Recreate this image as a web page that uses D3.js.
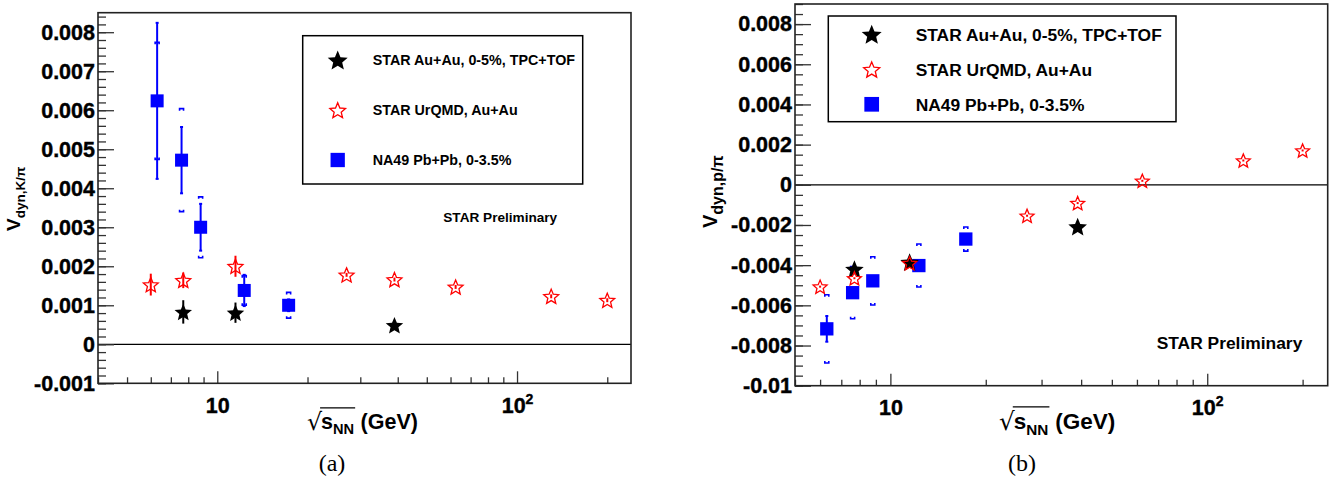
<!DOCTYPE html>
<html><head><meta charset="utf-8">
<script src="https://cdn.jsdelivr.net/npm/d3@7"></script>
<style>body{margin:0;background:#fff} svg{display:block}</style>
</head><body>
<svg id="c" width="1343" height="485"></svg>
<script>
// ---------------- data ----------------
const starEnergy = [7.7, 11.5, 39];
const starKpi    = [0.00083, 0.00081, 0.00049];
const starKpiErr = [0.00030, 0.00026, 0.00003];
const starPpi    = [-0.00419, -0.00385, -0.00208];
const starPpiErr = [0.00010, 0.00010, 0.00010];

const urqmdEnergy = [6.0, 7.7, 11.5, 27, 39, 62.4, 130, 200];
const urqmdKpi    = [0.00153, 0.00164, 0.00200, 0.00178, 0.00166, 0.00147, 0.00123, 0.00113];
const urqmdKpiErr = [0.00028, 0.00020, 0.00027, 0.00005, 0.00005, 0.00005, 0.00005, 0.00005];
const urqmdPpi    = [-0.00507, -0.00465, -0.00390, -0.00154, -0.00091, 0.00020, 0.00121, 0.00171];
const urqmdPpiErr = [0.00005, 0.00005, 0.00005, 0.00005, 0.00005, 0.00005, 0.00005, 0.00005];

const na49Energy  = [6.3, 7.6, 8.8, 12.3, 17.3];
const na49Kpi     = [0.00624, 0.00472, 0.00300, 0.00138, 0.00100];
const na49KpiStat = [0.00200, 0.00085, 0.00060, 0.00040, 0.00015];
const na49KpiSys  = [0.00150, 0.00132, 0.00078, 0.00038, 0.00033];
const na49Ppi     = [-0.00717, -0.00537, -0.00478, -0.00402, -0.00270];
const na49PpiStat = [0.00064, 0.00020, 0.00020, 0.00020, 0.00020];
const na49PpiSys  = [0.00170, 0.00130, 0.00120, 0.00107, 0.00060];

const legendLabels = ["STAR Au+Au, 0-5%, TPC+TOF", "STAR UrQMD, Au+Au", "NA49 Pb+Pb, 0-3.5%"];
const xMajorTicks = [10, 100];
const xMajorLabels = [["10", ""], ["10", "2"]];
const xMinorTicks = [4, 5, 6, 7, 8, 9, 20, 30, 40, 50, 60, 70, 80, 90, 200];
const yTicksA = [-0.001, 0, 0.001, 0.002, 0.003, 0.004, 0.005, 0.006, 0.007, 0.008];
const yTicksB = [-0.01, -0.008, -0.006, -0.004, -0.002, 0, 0.002, 0.004, 0.006, 0.008];
const yLabelSubA = "dyn,K/\u03C0";
const yLabelSubB = "dyn,p/\u03C0";
const prelimText = "STAR Preliminary";
const captions = ["(a)", "(b)"];

// ---------------- drawing ----------------
const svg = d3.select("#c");
const FONT = "'Liberation Sans', Arial, Helvetica, sans-serif";
const BLUE = "#0000ff", RED = "#ff0000";

const panels = [
  {
    frame: {x0: 98, x1: 631, y0: 12.7, y1: 383.3},
    xDomain: [4, 240], yDomain: [-0.001, 0.0085],
    yTicks: yTicksA, yMinor: d3.range(-0.001, 0.00851, 0.0002),
    star: starKpi, starErr: starKpiErr, urqmd: urqmdKpi, urqmdErr: urqmdKpiErr,
    na49: na49Kpi, na49Stat: na49KpiStat, na49Sys: na49KpiSys,
    starR: 9.2, redR: 7.8, sq: 13,
    legend: {x0: 302.7, x1: 582.7, y0: 35.7, y1: 184, mx: 337.7, tx: 372.7, rows: [60, 110, 160], fs: 14.3, starR: 10.5, redR: 8.2, sq: 14.3},
    prelim: {x: 443.3, y: 222.3, fs: 13.6},
    ylab: {x: 19.5, y: 231, fsV: 19, fsS: 13.5, dy: 5},
    xtitle: {x: 307, y: 429, fs: 21.5},
    labFs: 21.5,
    caption: {x: 332, y: 471, text: captions[0]}
  },
  {
    frame: {x0: 795, x1: 1327.7, y0: 4, y1: 385.7},
    xDomain: [5, 240], yDomain: [-0.01, 0.009],
    yTicks: yTicksB, yMinor: d3.range(-0.01, 0.00901, 0.0005),
    star: starPpi, starErr: starPpiErr, urqmd: urqmdPpi, urqmdErr: urqmdPpiErr,
    na49: na49Ppi, na49Stat: na49PpiStat, na49Sys: na49PpiSys,
    starR: 9.8, redR: 7.3, sq: 13.3,
    legend: {x0: 828.3, x1: 1176, y0: 16, y1: 121.7, mx: 871.7, tx: 915.7, rows: [34.3, 69.3, 104.3], fs: 17.4, starR: 10.5, redR: 8.4, sq: 14.7},
    prelim: {x: 1156.7, y: 349, fs: 17.4},
    ylab: {x: 717, y: 228, fsV: 20, fsS: 16, dy: 5.5},
    xtitle: {x: 999, y: 429, fs: 22.5},
    labFs: 21.5,
    caption: {x: 1022, y: 471, text: captions[1]}
  }
];

// ROOT-like five-pointed star (plumper than d3.symbolStar)
const rootStar = {
  draw(ctx, size) {
    const r = Math.sqrt(size), ri = r * 0.45;
    for (let i = 0; i < 10; i++) {
      const a = -Math.PI / 2 + i * Math.PI / 5;
      const rr = i % 2 ? ri : r;
      const px = rr * Math.cos(a), py = rr * Math.sin(a);
      if (i) ctx.lineTo(px, py); else ctx.moveTo(px, py);
    }
    ctx.closePath();
  }
};
function starPath(r) {
  return d3.symbol().type(rootStar).size(r * r)();
}

function drawPanel(p) {
  const f = p.frame;
  const g = svg.append("g");
  const x = d3.scaleLog().domain(p.xDomain).range([f.x0, f.x1]);
  const y = d3.scaleLinear().domain(p.yDomain).range([f.y1, f.y0]);

  // zero line
  g.append("line").attr("x1", f.x0).attr("x2", f.x1).attr("y1", y(0)).attr("y2", y(0))
    .attr("stroke", "#000").attr("stroke-width", 1.2);

  // y axis minor
  const yMinAx = d3.axisLeft(y).tickValues(p.yMinor.filter(v => v <= p.yDomain[1] + 1e-9))
    .tickSizeInner(-8).tickSizeOuter(0).tickFormat("");
  const gyMin = g.append("g").attr("transform", `translate(${f.x0},0)`).call(yMinAx);
  // y axis major
  const yAx = d3.axisLeft(y).tickValues(p.yTicks).tickSizeInner(-16).tickSizeOuter(0).tickPadding(3)
    .tickFormat(d => String(+d.toFixed(4)));
  const gy = g.append("g").attr("transform", `translate(${f.x0},0)`).call(yAx);
  gy.selectAll("text").style("font-family", FONT).style("font-weight", "bold")
    .style("font-size", p.labFs + "px").attr("fill", "#000").attr("stroke", "#000").attr("stroke-width", 0.4);

  // x axis minor
  const xMinAx = d3.axisBottom(x).tickValues(xMinorTicks.filter(v => v >= p.xDomain[0] && v <= p.xDomain[1]))
    .tickSizeInner(-6).tickSizeOuter(0).tickFormat("");
  const gxMin = g.append("g").attr("transform", `translate(0,${f.y1})`).call(xMinAx);
  const xAx = d3.axisBottom(x).tickValues(xMajorTicks).tickSizeInner(-12).tickSizeOuter(0).tickPadding(14)
    .tickFormat("");
  const gx = g.append("g").attr("transform", `translate(0,${f.y1})`).call(xAx);
  gx.selectAll(".tick text").each(function(d, i) {
    const t = d3.select(this);
    t.style("font-family", FONT).style("font-weight", "bold").style("font-size", "21.5px").attr("fill", "#000")
      .attr("stroke", "#000").attr("stroke-width", 0.4);
    t.append("tspan").text(xMajorLabels[i][0]);
    if (xMajorLabels[i][1]) t.append("tspan").attr("dy", -9).style("font-size", "14px").text(xMajorLabels[i][1]);
  });
  [gyMin, gy, gxMin, gx].forEach(a => {
    a.select(".domain").remove();
    a.selectAll("line").attr("stroke", "#333").attr("stroke-width", 1.3);
  });

  // frame
  g.append("rect").attr("x", f.x0).attr("y", f.y0).attr("width", f.x1 - f.x0).attr("height", f.y1 - f.y0)
    .attr("fill", "none").attr("stroke", "#222").attr("stroke-width", 1.6);

  // NA49 stat bars
  const na = na49Energy.map((e, i) => ({e, v: p.na49[i], s: p.na49Stat[i], y: p.na49Sys[i]}));
  na.forEach(d => {
    const cx = x(d.e);
    g.append("line").attr("x1", cx).attr("x2", cx).attr("y1", y(d.v - d.s)).attr("y2", y(d.v + d.s))
      .attr("stroke", BLUE).attr("stroke-width", 2);
    [d.v - d.s, d.v + d.s].forEach(v => g.append("line").attr("x1", cx - 1.5).attr("x2", cx + 1.5)
      .attr("y1", y(v)).attr("y2", y(v)).attr("stroke", BLUE).attr("stroke-width", 2));
    // systematic caps
    const yt = y(d.v + d.y), yb = y(d.v - d.y);
    g.append("path").attr("d", `M${cx - 2},${yt + 2}L${cx - 2},${yt}L${cx + 2},${yt}L${cx + 2},${yt + 2}`)
      .attr("fill", "none").attr("stroke", BLUE).attr("stroke-width", 1.6);
    g.append("path").attr("d", `M${cx - 2},${yb - 2}L${cx - 2},${yb}L${cx + 2},${yb}L${cx + 2},${yb - 2}`)
      .attr("fill", "none").attr("stroke", BLUE).attr("stroke-width", 1.6);
  });
  // STAR err bars
  starEnergy.forEach((e, i) => {
    g.append("line").attr("x1", x(e)).attr("x2", x(e)).attr("y1", y(p.star[i] - p.starErr[i])).attr("y2", y(p.star[i] + p.starErr[i]))
      .attr("stroke", "#000").attr("stroke-width", 2);
  });
  urqmdEnergy.forEach((e, i) => {
    g.append("line").attr("x1", x(e)).attr("x2", x(e)).attr("y1", y(p.urqmd[i] - p.urqmdErr[i])).attr("y2", y(p.urqmd[i] + p.urqmdErr[i]))
      .attr("stroke", RED).attr("stroke-width", 2);
  });
  // NA49 squares
  g.selectAll(".sq").data(na).enter().append("rect")
    .attr("x", d => x(d.e) - p.sq / 2).attr("y", d => y(d.v) - p.sq / 2)
    .attr("width", p.sq).attr("height", p.sq).attr("fill", BLUE);
  // STAR stars
  g.selectAll(".st").data(starEnergy).enter().append("path")
    .attr("d", starPath(p.starR)).attr("transform", (e, i) => `translate(${x(e)},${y(p.star[i]) + p.starR * 0.1})`)
    .attr("fill", "#000");
  // UrQMD open stars
  g.selectAll(".ur").data(urqmdEnergy).enter().append("path")
    .attr("d", starPath(p.redR)).attr("transform", (e, i) => `translate(${x(e)},${y(p.urqmd[i]) + p.redR * 0.1})`)
    .attr("fill", "none").attr("stroke", RED).attr("stroke-width", 1.3);

  // legend
  const L = p.legend;
  g.append("rect").attr("x", L.x0).attr("y", L.y0).attr("width", L.x1 - L.x0).attr("height", L.y1 - L.y0)
    .attr("fill", "#fff").attr("stroke", "#000").attr("stroke-width", 1.5);
  g.append("path").attr("d", starPath(L.starR)).attr("transform", `translate(${L.mx},${L.rows[0] + 1})`).attr("fill", "#000");
  g.append("path").attr("d", starPath(L.redR)).attr("transform", `translate(${L.mx},${L.rows[1] + 1})`)
    .attr("fill", "none").attr("stroke", RED).attr("stroke-width", 1.3);
  g.append("rect").attr("x", L.mx - L.sq / 2).attr("y", L.rows[2] - L.sq / 2).attr("width", L.sq).attr("height", L.sq).attr("fill", BLUE);
  legendLabels.forEach((t, i) => g.append("text").attr("x", L.tx).attr("y", L.rows[i] + L.fs * 0.36)
    .style("font-family", FONT).style("font-weight", "bold").style("font-size", L.fs + "px").text(t));

  // preliminary
  g.append("text").attr("x", p.prelim.x).attr("y", p.prelim.y).style("font-family", FONT)
    .style("font-weight", "bold").style("font-size", p.prelim.fs + "px").text(prelimText);

  // y label
  const yl = g.append("text").attr("transform", `translate(${p.ylab.x},${p.ylab.y}) rotate(-90)`)
    .style("font-family", FONT).style("font-weight", "bold");
  yl.append("tspan").style("font-size", p.ylab.fsV + "px").text("V");
  yl.append("tspan").attr("dy", p.ylab.dy).style("font-size", p.ylab.fsS + "px")
    .text(p === panels[0] ? yLabelSubA : yLabelSubB);

  // x title
  const X = p.xtitle;
  const rad = g.append("text").attr("x", X.x).attr("y", X.y + 1).style("font-family", "'DejaVu Sans', sans-serif")
    .style("font-size", (X.fs * 1.1) + "px").text("\u221A");
  const rw = rad.node().getComputedTextLength();
  const sx = X.x + rw - 1;
  const st = g.append("text").attr("x", sx).attr("y", X.y).style("font-family", FONT).style("font-weight", "bold")
    .style("font-size", X.fs + "px");
  st.append("tspan").text("s");
  st.append("tspan").attr("dy", X.fs * 0.25).style("font-size", (X.fs * 0.68) + "px").text("NN");
  const sw = st.node().getComputedTextLength();
  g.append("line").attr("x1", sx - 1).attr("x2", sx + sw + 1).attr("y1", X.y - X.fs * 0.98).attr("y2", X.y - X.fs * 0.98)
    .attr("stroke", "#000").attr("stroke-width", 1.2);
  g.append("text").attr("x", sx + sw + X.fs * 0.3).attr("y", X.y).style("font-family", FONT).style("font-weight", "bold")
    .style("font-size", X.fs + "px").text("(GeV)");

  // caption
  g.append("text").attr("x", p.caption.x).attr("y", p.caption.y).attr("text-anchor", "middle")
    .style("font-family", "'Liberation Serif', 'DejaVu Serif', serif").style("font-size", "24px").text(p.caption.text);
}

panels.forEach(drawPanel);
</script>
</body></html>
